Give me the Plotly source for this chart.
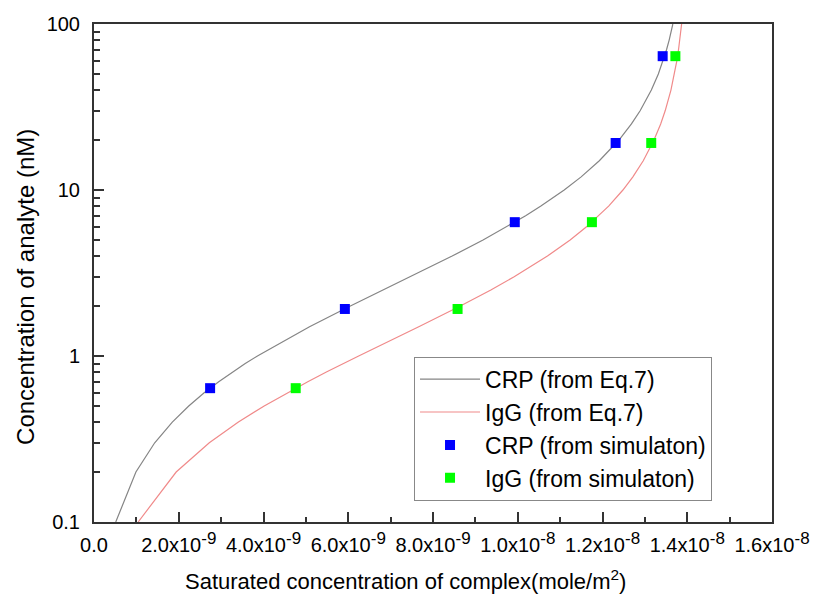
import plotly.graph_objects as go

# ---- data ----
# Eq.7 curves: concentration of analyte (nM) vs saturated complex (mole/m^2)
conc_curve = [0.1, 0.2, 0.3, 0.4, 0.5, 0.6, 0.7, 0.8, 0.9, 1.0, 1.5, 2, 2.5, 3, 4, 5, 6, 7, 8,
              10, 12, 15, 20, 25, 30, 40, 50, 60, 70, 80, 100]
crp_curve_x = [0.513e-9, 0.989e-9, 1.433e-9, 1.848e-9, 2.236e-9, 2.600e-9, 2.943e-9, 3.265e-9,
               3.569e-9, 3.857e-9, 5.086e-9, 6.050e-9, 6.826e-9, 7.464e-9, 8.452e-9, 9.181e-9,
               9.742e-9, 10.186e-9, 10.546e-9, 11.096e-9, 11.496e-9, 11.925e-9, 12.388e-9,
               12.683e-9, 12.888e-9, 13.153e-9, 13.318e-9, 13.430e-9, 13.511e-9, 13.573e-9, 13.660e-9]
igg_curve_x = [1.042e-9, 1.939e-9, 2.721e-9, 3.408e-9, 4.016e-9, 4.558e-9, 5.045e-9, 5.484e-9,
               5.883e-9, 6.246e-9, 7.664e-9, 8.645e-9, 9.365e-9, 9.915e-9, 10.701e-9, 11.236e-9,
               11.623e-9, 11.916e-9, 12.145e-9, 12.482e-9, 12.717e-9, 12.962e-9, 13.215e-9,
               13.373e-9, 13.479e-9, 13.615e-9, 13.698e-9, 13.754e-9, 13.794e-9, 13.824e-9, 13.867e-9]

# simulation points
conc_sim = [0.64, 1.92, 6.4, 19.2, 64]
crp_sim_x = [2.74e-9, 5.92e-9, 9.93e-9, 12.31e-9, 13.42e-9]
igg_sim_x = [4.76e-9, 8.58e-9, 11.75e-9, 13.15e-9, 13.72e-9]

# axis ticks
x_tickvals = [0, 2e-9, 4e-9, 6e-9, 8e-9, 1e-8, 1.2e-8, 1.4e-8, 1.6e-8]
x_mantissa = ["2.0", "4.0", "6.0", "8.0", "1.0", "1.2", "1.4", "1.6"]
x_exponent = ["-9", "-9", "-9", "-9", "-8", "-8", "-8", "-8"]
x_minor = [1e-9, 3e-9, 5e-9, 7e-9, 9e-9, 1.1e-8, 1.3e-8, 1.5e-8]
y_tickvals = [0.1, 1, 10, 100]
y_ticktext = ["0.1", "1", "10", "100"]
y_minor = [0.2, 0.3, 0.4, 0.5, 0.6, 0.7, 0.8, 0.9,
           2, 3, 4, 5, 6, 7, 8, 9,
           20, 30, 40, 50, 60, 70, 80, 90]

x_title = "Saturated concentration of complex(mole/m<sup>2</sup>)"
y_title = "Concentration of analyte (nM)"

FONT = "Liberation Sans, Arial, sans-serif"

x_ticktext = ["0.0"] + [
    f"{m}x10<sup><span style='font-size:17px'>{e}</span></sup>"
    for m, e in zip(x_mantissa, x_exponent)
]

fig = go.Figure()
fig.add_trace(go.Scatter(x=crp_curve_x, y=conc_curve, mode="lines",
                         line=dict(color="#858585", width=1.2),
                         name="CRP (from Eq.7)"))
fig.add_trace(go.Scatter(x=igg_curve_x, y=conc_curve, mode="lines",
                         line=dict(color="#f08a8a", width=1.2),
                         name="IgG (from Eq.7)"))
fig.add_trace(go.Scatter(x=crp_sim_x, y=conc_sim, mode="markers",
                         marker=dict(symbol="square", color="#0000ff", size=10,
                                     line=dict(width=0)),
                         name="CRP (from simulaton)"))
fig.add_trace(go.Scatter(x=igg_sim_x, y=conc_sim, mode="markers",
                         marker=dict(symbol="square", color="#00ff00", size=10,
                                     line=dict(width=0)),
                         name="IgG (from simulaton)"))

fig.update_layout(
    width=816, height=602,
    margin=dict(l=94, r=44, t=24, b=80),
    paper_bgcolor="white", plot_bgcolor="white",
    font=dict(family=FONT, color="black"),
    showlegend=True,
    legend=dict(x=0.472, y=0.332, xanchor="left", yanchor="top",
                bgcolor="white", bordercolor="#888888", borderwidth=1,
                font=dict(size=23, family=FONT, color="black"),
                itemwidth=60, tracegroupgap=0),
    annotations=[
        dict(text=x_title, xref="paper", yref="paper", x=0.460, y=-0.1165,
             xanchor="center", yanchor="middle", showarrow=False,
             font=dict(size=22, family=FONT, color="black")),
        dict(text=y_title, xref="paper", yref="paper", x=-0.1003, y=0.472,
             xanchor="center", yanchor="middle", showarrow=False, textangle=-90,
             font=dict(size=24, family=FONT, color="black")),
    ],
)
fig.update_xaxes(
    range=[0, 1.6e-8], showgrid=False, zeroline=False,
    showline=True, linecolor="#333333", linewidth=2, mirror=True,
    tickmode="array", tickvals=x_tickvals, ticktext=x_ticktext,
    ticks="inside", ticklen=10, tickwidth=2, tickcolor="#333333",
    ticklabelstandoff=4,
    tickfont=dict(size=20, family=FONT, color="black"),
    minor=dict(tickmode="array", tickvals=x_minor, ticks="inside",
               ticklen=5, tickwidth=2, tickcolor="#333333", showgrid=False),
    automargin=False,
)
fig.update_yaxes(
    type="log", range=[-1, 2], showgrid=False, zeroline=False,
    showline=True, linecolor="#333333", linewidth=2, mirror=True,
    tickmode="array", tickvals=y_tickvals, ticktext=y_ticktext,
    ticks="inside", ticklen=10, tickwidth=2, tickcolor="#333333",
    ticklabelstandoff=8,
    tickfont=dict(size=20, family=FONT, color="black"),
    minor=dict(tickmode="array", tickvals=y_minor, ticks="inside",
               ticklen=6, tickwidth=2, tickcolor="#333333", showgrid=False),
    automargin=False,
)

fig.write_html("out.html")
